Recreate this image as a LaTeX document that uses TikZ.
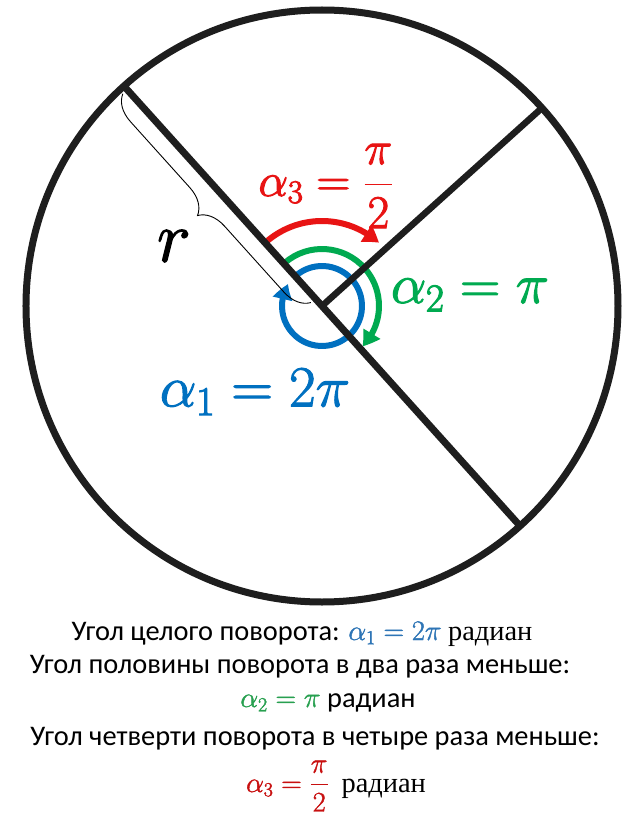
\documentclass[tikz,border=0pt]{standalone}
\usepackage{fix-cm}
\usepackage{amsmath}
\usepackage[no-math]{fontspec}
\setmainfont{Carlito}
\newfontfamily\serifcyr{Liberation Serif}
\usetikzlibrary{arrows.meta,bending,decorations.pathreplacing,calc}
\definecolor{cred}{RGB}{232,20,20}
\definecolor{cgreen}{RGB}{0,170,80}
\definecolor{cblue}{RGB}{0,112,192}
\definecolor{tred}{RGB}{200,16,16}
\definecolor{tgreen}{RGB}{40,160,80}
\definecolor{tblue}{RGB}{46,117,182}
\definecolor{ink}{RGB}{30,30,30}
\newcommand\heavytext[2]{\special{pdf:literal 2 Tr #1 w}#2\special{pdf:literal 0 Tr}}
\tikzset{
  thickline/.style={draw=ink,line width=7pt},
  anglearc/.style={line width=6pt,-{Triangle[length=16pt,width=19pt,bend]}},
  bodytext/.style={anchor=base,inner sep=0pt,font=\fontsize{28.4}{34}\selectfont},
}
\begin{document}
\begin{tikzpicture}[x=1pt,y=1pt]
\useasboundingbox (-322,-511) rectangle (315,306);
\fill[white] (-322,-511) rectangle (315,306);
\coordinate (O) at (0,0);
\coordinate (A) at (132:296);
\coordinate (B) at (-48:296);
\coordinate (C) at (42:296);
% angle arcs
\draw[anglearc,draw=cred] (131:85) arc[start angle=131,end angle=48,radius=85];
\draw[anglearc,draw=cgreen] (131:57) arc[start angle=131,end angle=-45,radius=57];
\draw[anglearc,draw=cblue] (132:40) arc[start angle=132,end angle=-213,radius=40];
% lines and circle
\draw[thickline] (A) -- (B);
\draw[thickline,line width=6.5pt] (O) -- (C);
\draw[thickline] (O) circle[radius=296];
% brace
\coordinate (b1) at ($(132:10)+(222:6)$);
\coordinate (b2) at ($(132:291)+(222:6)$);
\draw[decorate,decoration={brace,amplitude=26pt},line width=0.9pt] (b1) -- (b2);
% labels
\node[text=cred,font=\fontsize{47}{50}\selectfont] (l3) at (4,120) {\heavytext{1}{$\alpha_3=\dfrac{\pi}{2}$}};
\node[text=cgreen,font=\fontsize{56}{60}\selectfont] (l2) at (148,11) {\heavytext{1.1}{$\alpha_2=\pi$}};
\node[text=cblue,font=\fontsize{58}{62}\selectfont] (l1) at (-67,-86) {\heavytext{1.1}{$\alpha_1=2\pi$}};
\node[font=\fontsize{72}{76}\selectfont] (lr) at (-148,60) {\heavytext{1.2}{$r$}};
% text
\node[bodytext] (t1) at (-20,-334) {Угол целого поворота: {\color{tblue}\heavytext{0.4}{$\alpha_1=2\pi$}} {\serifcyr радиан}};
\node[bodytext] (t2) at (-22,-367) {Угол половины поворота в два раза меньше:};
\node[bodytext] (t3) at (6,-401) {{\color{tgreen}\heavytext{0.4}{$\alpha_2=\pi$}} радиан};
\node[bodytext] (t4) at (-7,-439) {Угол четверти поворота в четыре раза меньше:};
\node[bodytext] (t5) at (14,-486) {{\color{tred}\heavytext{0.4}{$\alpha_3=\dfrac{\pi}{2}$}}\ \ {\serifcyr радиан}};
\end{tikzpicture}
\end{document}
